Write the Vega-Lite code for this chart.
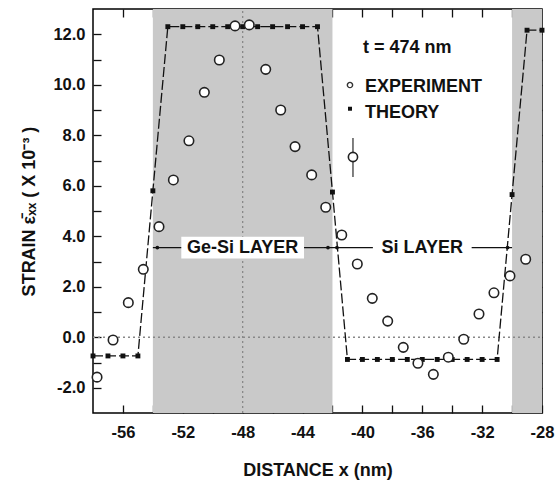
{
  "$schema": "https://vega.github.io/schema/vega-lite/v6.json",
  "width": 449,
  "height": 404,
  "autosize": {"type": "none"},
  "padding": {"left": 93, "top": 9, "right": 13, "bottom": 69},
  "background": "white",
  "config": {
    "view": {"stroke": "#000", "strokeWidth": 1.5},
    "axis": {
      "domain": false, "grid": false,
      "labelFont": "Liberation Sans", "labelFontWeight": "bold", "labelFontSize": 16.5, "labelColor": "#111",
      "titleFont": "Liberation Sans", "titleFontWeight": "bold", "titleFontSize": 18, "titleColor": "#111",
      "tickColor": "#111", "tickWidth": 1.3, "tickSize": -8
    },
    "text": {"font": "Liberation Sans", "fontWeight": "bold", "fontSize": 18, "color": "#111"}
  },
  "datasets": {
    "theory": [
      {"x": -58, "y": -0.74}, {"x": -57, "y": -0.74}, {"x": -56, "y": -0.74}, {"x": -55, "y": -0.74},
      {"x": -54, "y": 5.8},
      {"x": -53, "y": 12.3}, {"x": -52, "y": 12.3}, {"x": -51, "y": 12.3}, {"x": -50, "y": 12.3},
      {"x": -49, "y": 12.3}, {"x": -48, "y": 12.3}, {"x": -47, "y": 12.3}, {"x": -46, "y": 12.3},
      {"x": -45, "y": 12.3}, {"x": -44, "y": 12.3}, {"x": -43, "y": 12.3},
      {"x": -42, "y": 5.75},
      {"x": -41, "y": -0.88}, {"x": -40, "y": -0.88}, {"x": -39, "y": -0.88}, {"x": -38, "y": -0.88},
      {"x": -37, "y": -0.88}, {"x": -36, "y": -0.88}, {"x": -35, "y": -0.88}, {"x": -34, "y": -0.88},
      {"x": -33, "y": -0.88}, {"x": -32, "y": -0.88}, {"x": -31, "y": -0.88},
      {"x": -30, "y": 5.65},
      {"x": -29, "y": 12.16}, {"x": -28, "y": 12.16}
    ],
    "experiment": [
      {"x": -57.73, "y": -1.58}, {"x": -56.66, "y": -0.11}, {"x": -55.64, "y": 1.37}, {"x": -54.64, "y": 2.69},
      {"x": -53.59, "y": 4.38}, {"x": -52.63, "y": 6.23}, {"x": -51.59, "y": 7.78}, {"x": -50.56, "y": 9.7},
      {"x": -49.56, "y": 10.98}, {"x": -48.51, "y": 12.33}, {"x": -47.56, "y": 12.37}, {"x": -46.46, "y": 10.61},
      {"x": -45.46, "y": 9.0}, {"x": -44.5, "y": 7.55}, {"x": -43.39, "y": 6.43}, {"x": -42.45, "y": 5.15},
      {"x": -41.38, "y": 4.05}, {"x": -40.34, "y": 2.9}, {"x": -39.34, "y": 1.54}, {"x": -38.31, "y": 0.64},
      {"x": -37.27, "y": -0.4}, {"x": -36.29, "y": -1.03}, {"x": -35.26, "y": -1.47}, {"x": -34.26, "y": -0.79},
      {"x": -33.23, "y": -0.08}, {"x": -32.21, "y": 0.92}, {"x": -31.21, "y": 1.76}, {"x": -30.14, "y": 2.43},
      {"x": -29.09, "y": 3.09}
    ],
    "errbar": [{"x": -40.63, "y": 7.14, "lo": 6.35, "hi": 7.89}],
    "shade": [{"x": -54, "x2": -42, "y": -3, "y2": 13}, {"x": -30, "x2": -28, "y": -3, "y2": 13}],
    "vdot": [{"x": -48, "y": -3, "y2": 13}],
    "hdot": [{"x": -58, "x2": -28, "y": 0}],
    "layerline": [{"x": -54, "x2": -30, "y": 3.55}],
    "arrowdots": [{"x": -53.7, "y": 3.55}, {"x": -42.3, "y": 3.55}, {"x": -41.7, "y": 3.55}, {"x": -30.3, "y": 3.55}],
    "boxes": [{"x": -52.1, "x2": -43.9, "y": 3.12, "y2": 3.98}, {"x": -39.3, "x2": -32.7, "y": 3.12, "y2": 3.98}],
    "layerlabels": [{"x": -48, "y": 3.55, "label": "Ge-Si LAYER"}, {"x": -36, "y": 3.55, "label": "Si LAYER"}],
    "legendtext": [
      {"x": -39.96, "y": 11.46, "label": "t = 474 nm"},
      {"x": -39.83, "y": 9.91, "label": "EXPERIMENT"},
      {"x": -39.83, "y": 8.88, "label": "THEORY"}
    ],
    "legcircle": [{"x": -40.83, "y": 9.99}],
    "legsquare": [{"x": -40.83, "y": 9.05}]
  },
  "encoding": {
    "x": {"field": "x", "type": "quantitative", "scale": {"domain": [-58, -28], "nice": false, "zero": false}, "axis": null},
    "y": {"field": "y", "type": "quantitative", "scale": {"domain": [-3, 13], "nice": false, "zero": false}, "axis": null}
  },
  "resolve": {"axis": {"x": "independent", "y": "independent"}},
  "layer": [
    {
      "data": {"name": "shade"},
      "mark": {"type": "rect", "color": "#c9c9c9"},
      "encoding": {"x2": {"field": "x2"}, "y2": {"field": "y2"}}
    },
    {
      "data": {"name": "vdot"},
      "mark": {"type": "rule", "color": "#888", "strokeDash": [2, 3], "strokeWidth": 1.3},
      "encoding": {"y2": {"field": "y2"}}
    },
    {
      "data": {"name": "hdot"},
      "mark": {"type": "rule", "color": "#888", "strokeDash": [2, 3], "strokeWidth": 1.3},
      "encoding": {"x2": {"field": "x2"}}
    },
    {
      "data": {"name": "layerline"},
      "mark": {"type": "rule", "color": "#111", "strokeWidth": 1.3},
      "encoding": {"x2": {"field": "x2"}}
    },
    {
      "data": {"name": "arrowdots"},
      "mark": {"type": "point", "shape": "circle", "filled": true, "color": "#111", "size": 14, "opacity": 1}
    },
    {
      "data": {"name": "boxes"},
      "mark": {"type": "rect", "color": "white"},
      "encoding": {"x2": {"field": "x2"}, "y2": {"field": "y2"}}
    },
    {
      "data": {"name": "layerlabels"},
      "mark": {"type": "text", "align": "center", "baseline": "middle"},
      "encoding": {"text": {"field": "label"}}
    },
    {
      "data": {"name": "theory"},
      "mark": {"type": "line", "color": "#111", "strokeWidth": 1.3, "strokeDash": [10, 3]},
      "encoding": {
        "x": {"field": "x", "type": "quantitative", "scale": {"domain": [-58, -28], "nice": false, "zero": false},
          "axis": {"orient": "bottom", "title": "DISTANCE x (nm)", "values": [-56, -54, -52, -50, -48, -46, -44, -42, -40, -38, -36, -34, -32, -30, -28],
            "labelExpr": "datum.value % 4 == 0 ? replace(datum.label, '−', '-') : ''", "labelPadding": 19, "titlePadding": 21, "labelFlush": false}},
        "y": {"field": "y", "type": "quantitative", "scale": {"domain": [-3, 13], "nice": false, "zero": false},
          "axis": {"orient": "left", "title": "STRAIN ε̄ₓₓ ( X 10⁻³ )", "values": [-2, -1, 0, 1, 2, 3, 4, 5, 6, 7, 8, 9, 10, 11, 12],
            "labelExpr": "datum.value % 2 == 0 ? replace(format(datum.value, '.1f'), '−', '-') : ''", "labelPadding": 16, "titlePadding": 14}}
      }
    },
    {
      "data": {"name": "theory"},
      "mark": {"type": "point", "shape": "square", "filled": true, "color": "#111", "size": 24, "opacity": 1}
    },
    {
      "data": {"name": "errbar"},
      "mark": {"type": "rule", "color": "#555", "strokeWidth": 1.5},
      "encoding": {"y": {"field": "lo", "type": "quantitative", "scale": {"domain": [-3, 13], "nice": false, "zero": false}, "axis": null}, "y2": {"field": "hi"}}
    },
    {
      "data": {"name": "errbar"},
      "mark": {"type": "point", "shape": "circle", "filled": true, "fill": "white", "stroke": "#222", "strokeWidth": 1.6, "size": 85, "opacity": 1}
    },
    {
      "data": {"name": "experiment"},
      "mark": {"type": "point", "shape": "circle", "filled": true, "fill": "white", "stroke": "#222", "strokeWidth": 1.6, "size": 90, "opacity": 1},
      "encoding": {
        "x": {"field": "x", "type": "quantitative", "scale": {"domain": [-58, -28], "nice": false, "zero": false},
          "axis": {"orient": "top", "title": null, "labels": false, "values": [-56, -54, -52, -50, -48, -46, -44, -42, -40, -38, -36, -34, -32, -30]}},
        "y": {"field": "y", "type": "quantitative", "scale": {"domain": [-3, 13], "nice": false, "zero": false},
          "axis": {"orient": "right", "title": null, "labels": false, "values": [-2, -1, 0, 1, 2, 3, 4, 5, 6, 7, 8, 9, 10, 11, 12]}}
      }
    },
    {
      "data": {"name": "legendtext"},
      "mark": {"type": "text", "align": "left", "baseline": "middle"},
      "encoding": {"text": {"field": "label"}}
    },
    {
      "data": {"name": "legcircle"},
      "mark": {"type": "point", "shape": "circle", "filled": true, "fill": "white", "stroke": "#333", "strokeWidth": 1.4, "size": 28, "opacity": 1}
    },
    {
      "data": {"name": "legsquare"},
      "mark": {"type": "point", "shape": "square", "filled": true, "color": "#111", "size": 16, "opacity": 1}
    }
  ]
}
